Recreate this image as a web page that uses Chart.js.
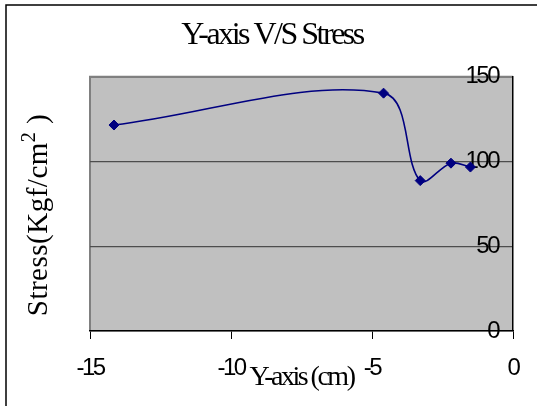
<!DOCTYPE html>
<html>
<head>
<meta charset="utf-8">
<script src="https://cdn.jsdelivr.net/npm/chart.js@4"></script>
<style>
  html, body { margin: 0; padding: 0; background: #fff; }
  canvas { display: block; }
</style>
</head>
<body>
<canvas id="grafico" width="537" height="406"></canvas>
<script>
// Dados
const posicoesY = [-14.15, -4.59, -3.29, -2.2, -1.51];   // Y-axis (cm)
const tensoes = [121.5, 140.3, 88.7, 99, 96.7];          // Stress (Kgf/cm2)
const ticksX = [-15, -10, -5, 0];
const ticksY = [0, 50, 100, 150];

const pontos = posicoesY.map((x, i) => ({ x: x, y: tensoes[i] }));

// Espaçamento das letras (o Excel desenha o texto bem apertado)
function ajustarTexto(chart) {
  chart.ctx.letterSpacing = '-2.5px';
}

// Fundo cinza da área do gráfico, moldura e título do eixo vertical
const fundoPlugin = {
  id: 'fundo',
  beforeLayout: ajustarTexto,
  beforeDraw(chart) {
    ajustarTexto(chart);
    const ctx = chart.ctx;
    const a = chart.chartArea;
    ctx.save();
    ctx.fillStyle = '#c0c0c0';
    ctx.fillRect(a.left, a.top, a.right - a.left, a.bottom - a.top);
    ctx.strokeStyle = '#808080';
    ctx.lineWidth = 2;
    ctx.beginPath();
    ctx.moveTo(a.left, a.bottom);
    ctx.lineTo(a.left, a.top);
    ctx.lineTo(a.right, a.top);
    ctx.stroke();
    // moldura externa
    ctx.strokeStyle = '#000';
    ctx.lineWidth = 1.5;
    ctx.beginPath();
    ctx.moveTo(6, chart.height);
    ctx.lineTo(6, 5);
    ctx.lineTo(chart.width, 5);
    ctx.stroke();
    ctx.restore();
  },
  afterDraw(chart) {
    // título do eixo vertical, do lado esquerdo (com o "2" sobrescrito)
    const ctx = chart.ctx;
    const parte1 = 'Stress(Kgf/cm';
    const sobre = '2';
    const parte2 = ' )';
    ctx.save();
    ctx.letterSpacing = '0.5px';
    ctx.fillStyle = '#000';
    ctx.textAlign = 'left';
    ctx.textBaseline = 'alphabetic';
    const fonteGrande = '29px "Liberation Serif"';
    const fontePequena = '20px "Liberation Serif"';
    ctx.font = fonteGrande;
    const w1 = ctx.measureText(parte1).width;
    const w3 = ctx.measureText(parte2).width;
    ctx.font = fontePequena;
    const w2 = ctx.measureText(sobre).width;
    const total = w1 + w2 + w3;
    ctx.translate(47, 215);
    ctx.rotate(-Math.PI / 2);
    let x = -total / 2;
    ctx.font = fonteGrande;
    ctx.fillText(parte1, x, 0);
    x += w1;
    ctx.font = fontePequena;
    ctx.fillText(sobre, x, -12);
    x += w2;
    ctx.font = fonteGrande;
    ctx.fillText(parte2, x, 0);
    ctx.restore();
  }
};

new Chart(document.getElementById('grafico'), {
  type: 'line',
  data: {
    datasets: [{
      data: pontos,
      xAxisID: 'x',
      yAxisID: 'y',
      borderColor: '#000080',
      backgroundColor: '#000080',
      borderWidth: 1.6,
      tension: 0.35,
      pointStyle: 'rectRot',
      pointRadius: 5,
      pointBorderWidth: 1,
      pointBorderColor: '#000080',
      pointBackgroundColor: '#000080',
      fill: false
    }]
  },
  options: {
    responsive: false,
    animation: false,
    layout: { padding: { left: 7, right: 0, top: 0, bottom: 0 } },
    plugins: {
      legend: { display: false },
      tooltip: { enabled: false },
      title: {
        display: true,
        text: 'Y-axis V/S Stress',
        color: '#000',
        font: { family: 'Liberation Serif', size: 32, weight: 'normal' },
        padding: { top: 16.6, bottom: 21.7 }
      }
    },
    scales: {
      x: {
        type: 'linear',
        min: -15,
        max: 0,
        afterBuildTicks: (eixo) => { eixo.ticks = ticksX.map(v => ({ value: v })); },
        ticks: {
          color: '#000',
          padding: 15,
          font: { family: 'Liberation Sans', size: 24 }
        },
        grid: {
          drawOnChartArea: false,
          drawTicks: true,
          tickLength: 8,
          color: '#000'
        },
        border: { color: '#000', width: 1.5 },
        title: {
          display: true,
          text: 'Y-axis (cm)',
          color: '#000',
          font: { family: 'Liberation Serif', size: 28, weight: 'normal' },
          padding: { top: -37.4, bottom: 12 }
        }
      },
      y: {
        position: 'right',
        min: 0,
        max: 150,
        afterBuildTicks: (eixo) => { eixo.ticks = ticksY.map(v => ({ value: v })); },
        afterFit: (eixo) => { eixo.width = 24; },
        ticks: {
          mirror: true,
          padding: -15,
          color: '#000',
          font: { family: 'Liberation Sans', size: 24 }
        },
        grid: {
          drawTicks: false,
          color: (c) => (c.tick && c.tick.value === 150 ? '#808080' : '#4d4d4d'),
          lineWidth: (c) => (c.tick && c.tick.value === 150 ? 2 : 1.2)
        },
        border: { color: '#000', width: 1.5 }
      },
      // eixo vazio só para reservar a margem esquerda
      esquerda: {
        type: 'linear',
        position: 'left',
        ticks: { display: false },
        grid: { display: false },
        border: { display: false },
        afterFit: (eixo) => { eixo.width = 83; }
      }
    }
  },
  plugins: [fundoPlugin]
});
</script>
</body>
</html>
